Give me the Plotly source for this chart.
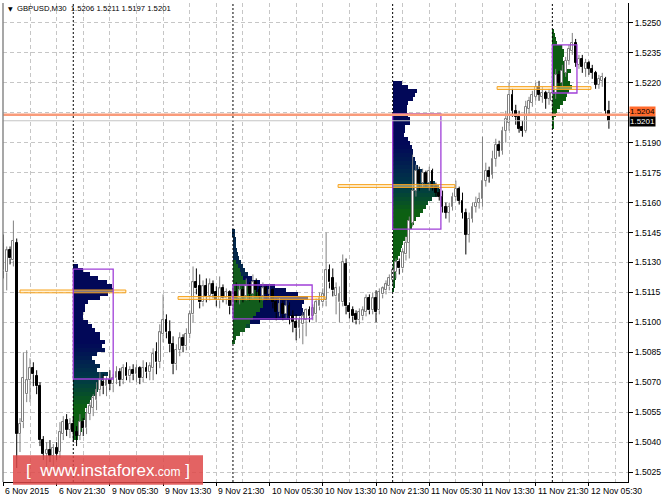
import plotly.graph_objects as go

# ---------------- candle data (M30 bars, index 0 = 6 Nov 13:30) ----------------
open_ = [1.5140,1.5125,1.5136,1.5131,1.5140,1.5044,1.5050,1.5064,1.5071,1.5077,
         1.5073,1.5068,1.5041,1.5034,1.5036,1.5033,1.5037,1.5035,1.5044,1.5051,
         1.5046,1.5049,1.5045,1.5043,1.5050,1.5047,1.5054,1.5057,1.5061,1.5066,
         1.5070,1.5068,1.5071,1.5069,1.5072,1.5075,1.5071,1.5077,1.5073,1.5076,
         1.5074,1.5077,1.5072,1.5077,1.5075,1.5077,1.5085,1.5080,1.5094,1.5101,
         1.5095,1.5089,1.5079,1.5086,1.5092,1.5088,1.5094,1.5104,1.5120,1.5118,
         1.5110,1.5118,1.5113,1.5119,1.5115,1.5111,1.5117,1.5112,1.5115,
         1.5108,1.5115,1.5112,1.5116,1.5113,1.5118,1.5114,1.5120,1.5116,1.5113,
         1.5117,1.5114,1.5116,1.5110,1.5105,1.5109,1.5104,1.5108,1.5103,1.5100,
         1.5097,1.5099,1.5101,1.5106,1.5103,1.5104,1.5108,1.5110,1.5111,1.5126,
         1.5122,1.5113,1.5110,1.5110,1.5129,1.5108,1.5106,1.5104,1.5101,1.5103,
         1.5105,1.5112,1.5106,1.5112,1.5106,1.5114,1.5116,1.5118,
         1.5121,1.5125,1.5130,1.5127,1.5134,1.5140,1.5150,1.5166,1.5176,1.5170,
         1.5175,1.5170,1.5176,1.5168,1.5165,1.5163,1.5158,1.5155,1.5158,1.5163,
         1.5167,1.5161,1.5155,1.5144,1.5152,1.5158,1.5160,1.5162,1.5171,1.5176,
         1.5174,1.5182,1.5189,1.5186,1.5196,1.5200,1.5214,1.5206,1.5203,1.5198,
         1.5196,1.5207,1.5210,1.5213,1.5218,1.5213,1.5215,1.5212,
         1.5211,1.5215,1.5224,1.5220,1.5225,1.5231,1.5236,1.5240,1.5229,1.5232,
         1.5227,1.5230,1.5227,1.5225,1.5219,1.5221,1.5222,1.5206]
high = [1.5144,1.5138,1.5138,1.5151,1.5142,1.5052,1.5085,1.5086,1.5082,1.5080,
        1.5076,1.5070,1.5043,1.5040,1.5041,1.5039,1.5040,1.5050,1.5053,1.5054,
        1.5052,1.5053,1.5048,1.5054,1.5052,1.5057,1.5060,1.5064,1.5070,1.5075,
        1.5074,1.5073,1.5076,1.5074,1.5078,1.5077,1.5079,1.5080,1.5078,1.5079,
        1.5079,1.5078,1.5081,1.5080,1.5080,1.5087,1.5090,1.5099,1.5114,1.5104,
        1.5101,1.5093,1.5089,1.5095,1.5094,1.5097,1.5106,1.5128,1.5127,1.5124,
        1.5121,1.5122,1.5122,1.5121,1.5118,1.5123,1.5119,1.5117,1.5116,
        1.5118,1.5120,1.5119,1.5118,1.5122,1.5120,1.5124,1.5122,1.5118,1.5120,
        1.5119,1.5119,1.5117,1.5112,1.5112,1.5111,1.5111,1.5110,1.5106,1.5104,
        1.5103,1.5105,1.5107,1.5108,1.5109,1.5112,1.5115,1.5117,1.5145,1.5129,
        1.5127,1.5120,1.5118,1.5134,1.5132,1.5110,1.5108,1.5106,1.5107,1.5108,
        1.5114,1.5114,1.5115,1.5116,1.5117,1.5118,1.5121,1.5124,
        1.5128,1.5132,1.5132,1.5137,1.5143,1.5153,1.5184,1.5179,1.5178,1.5177,
        1.5176,1.5178,1.5177,1.5170,1.5167,1.5166,1.5160,1.5160,1.5165,1.5171,
        1.5168,1.5165,1.5157,1.5155,1.5160,1.5163,1.5165,1.5193,1.5180,1.5178,
        1.5186,1.5192,1.5191,1.5198,1.5206,1.5220,1.5217,1.5209,1.5206,1.5201,
        1.5211,1.5213,1.5216,1.5220,1.5221,1.5218,1.5216,1.5217,
        1.5217,1.5227,1.5226,1.5229,1.5233,1.5239,1.5245,1.5242,1.5234,1.5234,
        1.5232,1.5231,1.5229,1.5226,1.5224,1.5225,1.5223,1.5211]
low = [1.5122,1.5116,1.5129,1.5128,1.5027,1.5035,1.5047,1.5060,1.5060,1.5068,
       1.5064,1.5038,1.5031,1.5027,1.5030,1.5028,1.5031,1.5032,1.5041,1.5043,
       1.5042,1.5040,1.5038,1.5041,1.5043,1.5044,1.5051,1.5053,1.5056,1.5063,
       1.5064,1.5063,1.5066,1.5065,1.5069,1.5068,1.5069,1.5071,1.5070,1.5071,
       1.5070,1.5069,1.5070,1.5072,1.5071,1.5071,1.5074,1.5077,1.5090,1.5092,
       1.5085,1.5074,1.5076,1.5083,1.5085,1.5086,1.5092,1.5100,1.5114,1.5107,
       1.5108,1.5110,1.5111,1.5112,1.5108,1.5107,1.5110,1.5109,1.5104,
       1.5105,1.5110,1.5109,1.5110,1.5111,1.5111,1.5112,1.5113,1.5110,1.5111,
       1.5111,1.5112,1.5107,1.5101,1.5103,1.5101,1.5102,1.5099,1.5095,1.5091,
       1.5092,1.5089,1.5093,1.5100,1.5101,1.5100,1.5106,1.5108,1.5108,1.5117,
       1.5113,1.5104,1.5100,1.5108,1.5104,1.5102,1.5100,1.5099,1.5099,1.5101,
       1.5103,1.5104,1.5104,1.5100,1.5104,1.5112,1.5114,1.5116,
       1.5118,1.5122,1.5124,1.5125,1.5131,1.5132,1.5148,1.5163,1.5166,1.5168,
       1.5168,1.5166,1.5166,1.5163,1.5161,1.5155,1.5152,1.5150,1.5156,1.5161,
       1.5159,1.5152,1.5134,1.5140,1.5150,1.5155,1.5157,1.5158,1.5168,1.5170,
       1.5172,1.5178,1.5183,1.5184,1.5190,1.5196,1.5203,1.5199,1.5195,1.5193,
       1.5195,1.5204,1.5208,1.5211,1.5211,1.5210,1.5207,1.5209,
       1.5208,1.5212,1.5217,1.5218,1.5223,1.5229,1.5234,1.5228,1.5227,1.5225,
       1.5223,1.5224,1.5222,1.5217,1.5217,1.5218,1.5204,1.5197]
close = [1.5126,1.5136,1.5132,1.5141,1.5044,1.5049,1.5072,1.5071,1.5077,1.5074,
         1.5068,1.5041,1.5034,1.5036,1.5033,1.5037,1.5034,1.5045,1.5050,1.5046,
         1.5049,1.5045,1.5043,1.5050,1.5047,1.5054,1.5058,1.5062,1.5066,1.5071,
         1.5068,1.5071,1.5069,1.5072,1.5075,1.5071,1.5077,1.5073,1.5076,1.5074,
         1.5077,1.5072,1.5077,1.5075,1.5078,1.5084,1.5080,1.5095,1.5101,1.5095,
         1.5089,1.5079,1.5086,1.5092,1.5088,1.5094,1.5104,1.5120,1.5117,1.5110,
         1.5118,1.5113,1.5119,1.5114,1.5111,1.5117,1.5112,1.5115,1.5108,
         1.5115,1.5112,1.5116,1.5113,1.5118,1.5114,1.5120,1.5116,1.5113,1.5117,
         1.5114,1.5116,1.5110,1.5105,1.5109,1.5104,1.5108,1.5103,1.5100,1.5097,
         1.5101,1.5103,1.5106,1.5103,1.5107,1.5110,1.5112,1.5114,1.5126,1.5120,
         1.5116,1.5117,1.5114,1.5130,1.5108,1.5105,1.5103,1.5101,1.5105,1.5106,
         1.5112,1.5106,1.5112,1.5105,1.5115,1.5117,1.5119,1.5122,
         1.5126,1.5130,1.5127,1.5135,1.5140,1.5151,1.5166,1.5176,1.5170,1.5175,
         1.5170,1.5176,1.5168,1.5165,1.5163,1.5158,1.5155,1.5158,1.5163,1.5167,
         1.5161,1.5155,1.5144,1.5152,1.5158,1.5160,1.5162,1.5171,1.5176,1.5173,
         1.5182,1.5189,1.5186,1.5196,1.5202,1.5214,1.5206,1.5203,1.5197,1.5196,
         1.5208,1.5211,1.5214,1.5218,1.5214,1.5215,1.5212,1.5215,
         1.5215,1.5224,1.5220,1.5226,1.5231,1.5237,1.5240,1.5230,1.5232,1.5228,
         1.5230,1.5227,1.5225,1.5219,1.5222,1.5223,1.5206,1.5201]

# ---------------- axis labels ----------------
time_tick_idx = [0, 16, 32, 48, 64, 80, 96, 112, 128, 144, 160, 176]
time_tick_labels = ["6 Nov 2015", "6 Nov 21:30", "9 Nov 05:30", "9 Nov 13:30",
                    "9 Nov 21:30", "10 Nov 05:30", "10 Nov 13:30", "10 Nov 21:30",
                    "11 Nov 05:30", "11 Nov 13:30", "11 Nov 21:30", "12 Nov 05:30"]
minor_grid_idx = [8, 24, 40, 56, 72, 88, 104, 120, 136, 152, 168, 184]
day_start_idx = [21, 69, 117, 165]
price_ticks = [1.5025, 1.5040, 1.5055, 1.5070, 1.5085, 1.5100, 1.5115, 1.5130,
               1.5145, 1.5160, 1.5175, 1.5190, 1.5205, 1.5220, 1.5235, 1.5250]
price_tick_text = ["1.5025", "1.5040", "1.5055", "1.5070", "1.5085", "1.5100", "1.5115",
                   "1.5130", "1.5145", "1.5160", "1.5175", "1.5190", "", "1.5220",
                   "1.5235", "1.5250"]

# ---------------- daily volume profiles ----------------
p1_price = [1.5128,1.5126,1.5124,1.5122,1.5120,1.5118,1.5116,1.5114,1.5112,1.5110,
            1.5108,1.5106,1.5104,1.5102,1.5100,1.5098,1.5096,1.5094,1.5092,1.5090,
            1.5088,1.5086,1.5084,1.5082,1.5080,1.5078,1.5076,1.5074,1.5072,1.5070,
            1.5068,1.5066,1.5064,1.5062,1.5060,1.5058,1.5056,1.5054,1.5052,1.5050,
            1.5048,1.5046,1.5044,1.5042]
p1_width = [1.5,3.0,5.0,7.5,10.2,11.7,12.0,10.5,8.1,4.5,
            3.6,3.6,3.0,3.0,4.5,5.7,6.6,8.1,8.1,9.6,
            8.7,9.6,7.2,5.7,6.6,8.1,7.2,10.5,9.0,8.7,
            8.1,7.5,6.6,5.7,5.0,4.2,3.6,4.2,4.2,3.0,
            3.0,2.7,2.0,1.5]
p2_price = [1.5146,1.5144,1.5142,1.5140,1.5138,1.5136,1.5134,1.5132,1.5130,1.5128,
            1.5126,1.5124,1.5122,1.5120,1.5118,1.5116,1.5114,1.5112,1.5110,1.5108,
            1.5106,1.5104,1.5102,1.5100,1.5098,1.5096,1.5094,1.5092,1.5090]
p2_width = [0.6,0.6,0.8,0.8,1.0,1.2,1.5,1.8,2.4,2.9,
            3.6,4.6,5.8,8.0,12.5,16.0,19.5,22.5,21.5,20.7,
            21.0,22.0,17.0,8.0,5.0,3.5,2.0,0.8,0.5]
p2_early = [0,0,0,0,0,0,0,0,1.0,1.5,
            2.0,2.5,3.0,4.0,6.0,7.0,8.0,9.0,9.0,9.0,
            8.0,7.0,6.0,5.0,4.0,3.5,2.0,0.8,0.5]
p3_price = [1.5220,1.5218,1.5216,1.5214,1.5212,1.5210,1.5208,1.5206,1.5204,1.5202,
            1.5200,1.5198,1.5196,1.5194,1.5192,1.5190,1.5188,1.5186,1.5184,1.5182,
            1.5180,1.5178,1.5176,1.5174,1.5172,1.5170,1.5168,1.5166,1.5164,1.5162,
            1.5160,1.5158,1.5156,1.5154,1.5152,1.5150,1.5148,1.5146,1.5144,1.5142,
            1.5140,1.5138,1.5136,1.5134,1.5132,1.5130,1.5128,1.5126,1.5124,1.5122,
            1.5120,1.5118,1.5116]
p3_width = [2.8,4.6,7.3,6.7,6.1,4.6,4.3,4.3,4.6,5.2,
            5.2,3.7,3.7,3.4,4.6,5.2,5.8,6.1,6.1,6.7,
            7.0,7.6,9.1,10.0,11.2,12.7,13.9,14.2,13.3,11.8,
            10.6,10.0,9.1,8.2,7.0,6.4,5.8,5.2,4.6,3.7,
            3.1,2.8,2.5,2.2,1.6,1.3,1.3,1.0,1.0,1.0,
            0.7,0.7,0.5]
p4_price = [1.5246,1.5244,1.5242,1.5240,1.5238,1.5236,1.5234,1.5232,1.5230,1.5228,
            1.5226,1.5224,1.5222,1.5220,1.5218,1.5216,1.5214,1.5212,1.5210,1.5208,
            1.5206,1.5204,1.5202,1.5200,1.5198]
p4_width = [0.5,0.8,1.0,1.4,3.0,3.6,3.6,3.3,4.0,4.5,
            5.5,4.8,4.8,5.3,5.8,5.0,4.5,4.0,3.3,2.3,
            1.5,1.0,0.6,0.5,0.5]

# point of control lines and value-area boxes
poc_start = [5.0, 52.5, 100.6, 148.4]
poc_end = [36.8, 96.7, 135.7, 176.6]
poc_price = [1.51155, 1.51122, 1.51683, 1.52174]
va_start = [21, 69, 117, 165]
va_end = [33.0, 92.8, 131.5, 172.4]
va_top = [1.51267, 1.51187, 1.52044, 1.52390]
va_bottom = [1.50716, 1.51017, 1.51467, 1.52149]

ask_price = 1.5204
bid_price = 1.5201
title_text = "GBPUSD,M30  1.5206 1.5211 1.5197 1.5201"

# ---------------- styling helpers ----------------
NAVY = (2, 8, 88)
TEAL = (0, 58, 70)
GREEN = (12, 96, 18)


def mix(c1, c2, t):
    return tuple(int(round(a + (b - a) * t)) for a, b in zip(c1, c2))


def grad(frac, stops):
    for (t0, c0), (t1, c1) in zip(stops[:-1], stops[1:]):
        if frac <= t1:
            tt = 0 if t1 == t0 else (frac - t0) / (t1 - t0)
            c = mix(c0, c1, max(0, min(1, tt)))
            return "rgb(%d,%d,%d)" % c
    return "rgb(%d,%d,%d)" % stops[-1][1]


def profile_colors(prices, stops):
    top, bot = prices[0], prices[-1]
    return [grad((top - p) / (top - bot), stops) for p in prices]


fig = go.Figure()
ROW = 0.0002

s1 = [(0, NAVY), (0.45, NAVY), (0.66, TEAL), (0.82, GREEN), (1, GREEN)]
fig.add_trace(go.Bar(orientation="h", y=p1_price, x=p1_width, base=day_start_idx[0],
                     width=ROW, marker=dict(color=profile_colors(p1_price, s1), line=dict(width=0)),
                     hoverinfo="skip"))
c2 = []
for p in p2_price:
    if p >= 1.5124:
        c2.append("rgb(5,40,75)")
    elif p <= 1.5098:
        c2.append("rgb(5,70,50)")
    else:
        c2.append("rgb(0,10,85)")
fig.add_trace(go.Bar(orientation="h", y=p2_price, x=p2_width, base=day_start_idx[1],
                     width=ROW, marker=dict(color=c2, line=dict(width=0)), hoverinfo="skip"))
fig.add_trace(go.Bar(orientation="h", y=p2_price, x=p2_early, base=day_start_idx[1],
                     width=ROW, marker=dict(color="rgb(18,92,28)", line=dict(width=0)),
                     hoverinfo="skip"))
s3 = [(0, NAVY), (0.3, NAVY), (0.5, TEAL), (0.62, GREEN), (0.9, GREEN), (1, (5, 75, 20))]
fig.add_trace(go.Bar(orientation="h", y=p3_price, x=p3_width, base=day_start_idx[2],
                     width=ROW, marker=dict(color=profile_colors(p3_price, s3), line=dict(width=0)),
                     hoverinfo="skip"))
fig.add_trace(go.Bar(orientation="h", y=p4_price, x=p4_width, base=day_start_idx[3],
                     width=ROW, marker=dict(color="rgb(12,92,18)", line=dict(width=0)),
                     hoverinfo="skip"))

# ---------------- candles ----------------
n = len(open_)
idx = list(range(n))
MINB = 0.00002
for bull in (True, False):
    xs, base, hgt = [], [], []
    wx, wy = [], []
    for i in idx:
        o, h, l, c = open_[i], high[i], low[i], close[i]
        if (c >= o) != bull:
            continue
        lo_b, hi_b = min(o, c), max(o, c)
        xs.append(i)
        base.append(lo_b)
        hgt.append(max(hi_b - lo_b, MINB))
        wx += [i, i, None, i, i, None]
        wy += [l, lo_b, None, hi_b, h, None]
    col = "#808080" if bull else "#000000"
    fig.add_trace(go.Scatter(x=wx, y=wy, mode="lines", line=dict(color=col, width=1),
                             hoverinfo="skip"))
    fig.add_trace(go.Bar(x=xs, y=hgt, base=base, width=0.55,
                         marker=dict(color="#ffffff" if bull else "#000000",
                                     line=dict(color=col, width=1)),
                         hoverinfo="skip"))

# ---------------- shapes ----------------
shapes = []
for d in day_start_idx:
    shapes.append(dict(type="line", xref="x", yref="paper", x0=d, x1=d, y0=0, y1=1,
                       line=dict(color="#000000", width=1, dash="2px,2px"), layer="above"))
for a, b, p in zip(poc_start, poc_end, poc_price):
    shapes.append(dict(type="rect", xref="x", yref="y", x0=a, x1=b, y0=p - 0.00007, y1=p + 0.00007,
                       line=dict(color="#F7A21B", width=1), fillcolor="rgba(255,225,170,0.5)",
                       layer="above"))
for a, b, t, btm in zip(va_start, va_end, va_top, va_bottom):
    shapes.append(dict(type="rect", xref="x", yref="y", x0=a, x1=b, y0=btm, y1=t,
                       line=dict(color="#A03FD8", width=1.3), fillcolor="rgba(0,0,0,0)",
                       layer="above"))
shapes.append(dict(type="line", xref="paper", yref="y", x0=0, x1=1, y0=bid_price, y1=bid_price,
                   line=dict(color="#C4C4C4", width=1), layer="above"))
shapes.append(dict(type="line", xref="paper", yref="y", x0=0, x1=1, y0=ask_price, y1=ask_price,
                   line=dict(color="#F99B7A", width=2.5), layer="above"))
shapes.append(dict(type="line", xref="paper", yref="paper", x0=0, x1=0, y0=0, y1=1,
                   line=dict(color="#8a8a8a", width=1.5), layer="above"))
# watermark box
shapes.append(dict(type="rect", xref="paper", yref="paper", x0=0.016, x1=0.32, y0=-0.006, y1=0.056,
                   line=dict(width=0), fillcolor="rgba(222,72,72,0.85)", layer="above"))

annotations = []
for t, lab in zip(time_tick_idx, time_tick_labels):
    annotations.append(dict(x=t, y=-0.0185, xref="x", yref="paper", text=lab, showarrow=False,
                            xanchor="left", yanchor="middle", xshift=0,
                            font=dict(family="Liberation Sans", size=8.6, color="#000000")))
annotations.append(dict(x=0.0045, y=0.9875, xref="paper", yref="paper",
                        text="▼", showarrow=False, xanchor="left", yanchor="middle",
                        font=dict(family="DejaVu Sans", size=6, color="#000000")))
annotations.append(dict(x=0.019, y=0.9875, xref="paper", yref="paper",
                        text=title_text, showarrow=False, xanchor="left", yanchor="middle",
                        font=dict(family="Liberation Sans", size=7.7, color="#000000")))
annotations.append(dict(x=1, y=ask_price, xref="paper", yref="y", text="1.5204", showarrow=False,
                        xanchor="left", yanchor="middle", xshift=1, yshift=3, bgcolor="#FF6A2C",
                        borderpad=0, font=dict(family="Liberation Sans", size=8, color="#000000")))
annotations.append(dict(x=1, y=bid_price, xref="paper", yref="y", text="1.5201", showarrow=False,
                        xanchor="left", yanchor="middle", xshift=1, yshift=-1, bgcolor="#000000",
                        borderpad=0, font=dict(family="Liberation Sans", size=8, color="#ffffff")))
annotations.append(dict(x=0.168, y=0.025, xref="paper", yref="paper",
                        text='[  www.instaforex<span style="font-size:12px">.com</span> ]',
                        showarrow=False, xanchor="center", yanchor="middle",
                        font=dict(family="Liberation Sans", size=17, color="#ffffff")))

fig.update_layout(
    width=664, height=498,
    margin=dict(l=3, r=36, t=3, b=16),
    paper_bgcolor="white", plot_bgcolor="white",
    showlegend=False, barmode="overlay", bargap=0,
    shapes=shapes, annotations=annotations,
    xaxis=dict(range=[-0.12, 187.74], tickvals=time_tick_idx, showticklabels=False,
               ticks="outside", ticklen=3, tickcolor="#000000",
               showgrid=True, gridcolor="#c6c6c6", griddash="4px,3px", gridwidth=1,
               minor=dict(tickvals=minor_grid_idx, showgrid=True, gridcolor="#c6c6c6",
                          griddash="4px,3px", gridwidth=1, ticks=""),
               showline=True, linecolor="#000000", linewidth=1, zeroline=False, fixedrange=True),
    yaxis=dict(range=[1.50200, 1.52600], side="right", tickvals=price_ticks,
               ticktext=price_tick_text,
               ticks="outside", ticklen=4, tickcolor="#000000",
               tickfont=dict(family="Liberation Sans", size=8.6, color="#000000"),
               showgrid=True, gridcolor="#c6c6c6", griddash="4px,3px", gridwidth=1,
               showline=True, linecolor="#000000", linewidth=1, zeroline=False, fixedrange=True),
)

fig.write_html("out.html", config={"displayModeBar": False},
               post_script="document.body.style.margin='0';document.body.style.overflow='hidden';")
